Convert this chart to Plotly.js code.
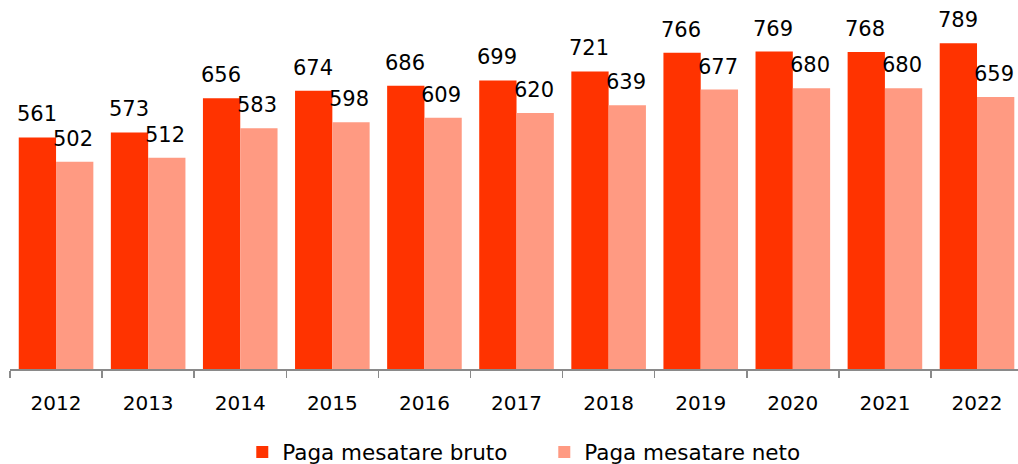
<!DOCTYPE html>
<html>
<head>
<meta charset="utf-8">
<script src="https://cdn.plot.ly/plotly-3.0.1.min.js"></script>
<style>html,body{margin:0;padding:0;background:#fff;}#chart{width:1018px;height:464px;}</style>
</head>
<body>
<div id="chart"></div>
<script>
const years = ["2012","2013","2014","2015","2016","2017","2018","2019","2020","2021","2022"];
const bruto = [561,573,656,674,686,699,721,766,769,768,789];
const neto = [502,512,583,598,609,620,639,677,680,680,659];
const seriesNames = ["Paga mesatare bruto","Paga mesatare neto"];

const labelFont = {family:"DejaVu Sans", size:21, color:"#000"};
const traces = [
  {type:"bar", x:years, y:bruto, name:seriesNames[0], marker:{color:"#ff3300"}, hoverinfo:"skip"},
  {type:"bar", x:years, y:neto, name:seriesNames[1], marker:{color:"#ff9a82"}, hoverinfo:"skip"}
];
const annotations = [];
years.forEach((yr, i) => {
  annotations.push({x:i, y:bruto[i], xref:"x", yref:"y", text:String(bruto[i]), showarrow:false,
    xanchor:"center", yanchor:"bottom", xshift:-19.5, yshift:9, font:labelFont});
  annotations.push({x:i, y:neto[i], xref:"x", yref:"y", text:String(neto[i]), showarrow:false,
    xanchor:"center", yanchor:"bottom", xshift:17, yshift:9, font:labelFont});
});
const layout = {
  width:1018, height:464,
  margin:{l:10, r:0, t:0, b:95, autoexpand:false},
  paper_bgcolor:"#fff", plot_bgcolor:"#fff",
  barmode:"group", bargap:0.19, bargroupgap:0,
  showlegend:true,
  legend:{orientation:"h", xref:"container", x:0.238, xanchor:"left", yref:"container", y:0.026, yanchor:"middle",
    font:{family:"DejaVu Sans", size:21.5, color:"#000"}, itemwidth:30, entrywidth:257, traceorder:"normal"},
  xaxis:{type:"category", range:[-0.5, years.length - 0.555], showline:true, linecolor:"#8a8a8a", linewidth:1.5,
    ticks:"outside", tickson:"boundaries", ticklen:7, tickcolor:"#8a8a8a", tickwidth:1.5,
    tickfont:{family:"DejaVu Sans", size:20, color:"#000"}, ticklabelstandoff:15, tickangle:0,
    showgrid:false, zeroline:false, fixedrange:true, automargin:false},
  yaxis:{range:[0,894], visible:false, showgrid:false, zeroline:false, fixedrange:true},
  annotations:annotations
};
Plotly.newPlot("chart", traces, layout, {displayModeBar:false, staticPlot:true});
</script>
</body>
</html>
